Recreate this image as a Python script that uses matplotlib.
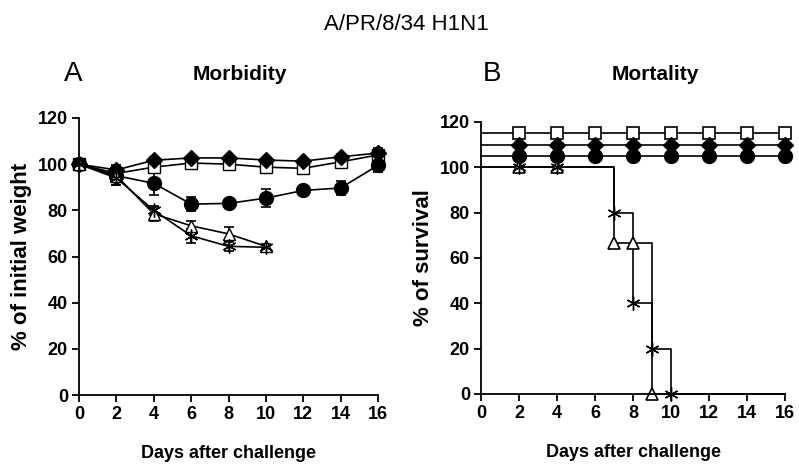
import matplotlib
matplotlib.use("Agg")
import matplotlib.pyplot as plt

plt.rcParams['font.family'] = ['Liberation Sans', 'DejaVu Sans']

days = [0, 2, 4, 6, 8, 10, 12, 14, 16]
days_short = [0, 2, 4, 6, 8, 10]

# morbidity (% of initial weight)
w_diamond = [100, 97.5, 101.7, 102.7, 102.7, 101.8, 101.3, 103.2, 104.8]
e_diamond = [1, 2, 1.5, 1, 1, 1, 1, 1, 2]
w_square = [100, 96, 98.7, 100.5, 100, 98.7, 98.2, 101, 104]
e_square = [1, 2, 1, 1, 1, 1, 1, 1, 2]
w_circle = [100, 95, 91.7, 82.7, 83, 85.3, 88.6, 89.7, 99.5]
e_circle = [1, 4, 5, 3, 2, 4, 1.5, 3, 3]
w_triangle = [100, 95, 78.5, 73.3, 69.8, 64.4]
e_triangle = [1, 2, 3, 2, 3, 1]
w_star = [100, 94, 80, 69, 64.4, 64]
e_star = [1, 3, 2, 3, 2, 1]

# mortality (% of survival), survivors drawn offset at 115/110/105
surv_days = [0, 2, 4, 6, 8, 10, 12, 14, 16]
surv_square = [115] * 9
surv_diamond = [110] * 9
surv_circle = [105] * 9
step_star_x = [0, 7, 8, 9, 10, 16]
step_star_y = [100, 80, 40, 20, 0, 0]
mk_star_x = [2, 4, 7, 8, 9, 10]
mk_star_y = [100, 100, 80, 40, 20, 0]
step_tri_x = [0, 7, 9, 16]
step_tri_y = [100, 66.7, 0, 0]
mk_tri_x = [2, 4, 7, 8, 9]
mk_tri_y = [100, 100, 66.7, 66.7, 0]

xticks = list(range(0, 17, 2))
yticks = list(range(0, 121, 20))

star = (6, 2, 0)
narrow = ['Liberation Sans Narrow', 'Liberation Sans', 'DejaVu Sans']

fig = plt.figure(figsize=(7.99, 4.66), dpi=100)
ax1 = fig.add_axes([79 / 799, 1 - 395 / 466, 299 / 799, 277 / 466])
ax2 = fig.add_axes([481 / 799, 1 - 394 / 466, 304 / 799, 272 / 466])


def style(ax):
    ax.set_xlim(0, 16)
    ax.set_ylim(0, 120)
    ax.set_xticks(xticks)
    ax.set_yticks(yticks)
    for s in ['top', 'right']:
        ax.spines[s].set_visible(False)
    for s in ['left', 'bottom']:
        ax.spines[s].set_linewidth(1.3)
    ax.tick_params(direction='out', length=5, width=1.3, labelsize=13, pad=3)
    for lab in ax.get_xticklabels() + ax.get_yticklabels():
        lab.set_fontweight('bold')


style(ax1)
style(ax2)

kw = dict(color='black', lw=1.2, capsize=3.5, elinewidth=1.2, capthick=1.2, clip_on=False)
ax1.errorbar(days, w_square, yerr=e_square, marker='s', ms=8, mfc='white', mec='black', **kw)
ax1.errorbar(days, w_diamond, yerr=e_diamond, marker='D', ms=8, mfc='black', mec='black', **kw)
ax1.errorbar(days, w_circle, yerr=e_circle, marker='o', ms=10, mfc='black', mec='black', **kw)
ax1.errorbar(days_short, w_triangle, yerr=e_triangle, marker='^', ms=9, mfc='white', mec='black', **kw)
ax1.errorbar(days_short, w_star, yerr=e_star, marker=star, ms=10, mfc='black', mec='black', **kw)

mk = list(range(1, 9))
ax2.plot(surv_days, surv_square, color='black', lw=1.2, marker='s', ms=9, mfc='white', mec='black', mew=1.2, markevery=mk, clip_on=False)
ax2.plot(surv_days, surv_diamond, color='black', lw=1.2, marker='D', ms=8, mfc='black', mec='black', markevery=mk, clip_on=False)
ax2.plot(surv_days, surv_circle, color='black', lw=1.2, marker='o', ms=10, mfc='black', mec='black', markevery=mk, clip_on=False)
ax2.step(step_star_x, step_star_y, where='post', color='black', lw=1.2, clip_on=False)
ax2.step(step_tri_x, step_tri_y, where='post', color='black', lw=1.2, clip_on=False)
ax2.plot(mk_tri_x, mk_tri_y, ls='none', marker='^', ms=9, mfc='white', mec='black', mew=1.2, clip_on=False)
ax2.plot(mk_star_x, mk_star_y, ls='none', marker=star, ms=10, mec='black', mew=1, clip_on=False)

ax1.set_ylabel('% of initial weight', fontsize=16, fontweight='bold', labelpad=4)
ax2.set_ylabel('% of survival', fontsize=16, fontweight='bold', labelpad=4)
ax1.set_xlabel('Days after challenge', fontsize=13, fontweight='bold', labelpad=16)
ax2.set_xlabel('Days after challenge', fontsize=13, fontweight='bold', labelpad=16)

fig.text(240 / 799, 1 - 75 / 466, 'Morbidity', fontsize=15, fontweight='bold', ha='center', va='center')
fig.text(655 / 799, 1 - 75 / 466, 'Mortality', fontsize=15, fontweight='bold', ha='center', va='center')
fig.text(73 / 799, 1 - 74 / 466, 'A', fontsize=20, family=narrow, ha='center', va='center')
fig.text(492 / 799, 1 - 74 / 466, 'B', fontsize=20, family=narrow, ha='center', va='center')
fig.text(406 / 799, 1 - 25 / 466, 'A/PR/8/34 H1N1', fontsize=16, ha='center', va='center')

fig.savefig('out.png', dpi=100)
